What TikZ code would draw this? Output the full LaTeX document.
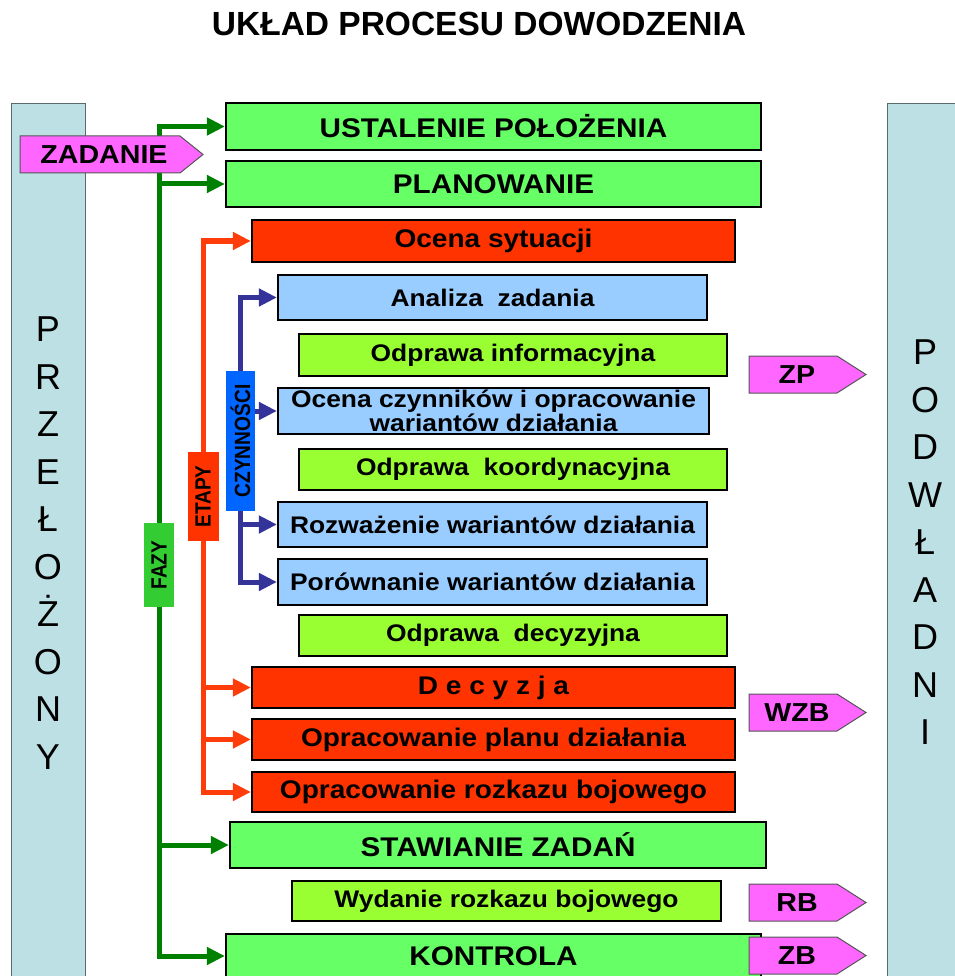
\documentclass[tikz,border=0pt]{standalone}
\usepackage{fontspec}
\setmainfont{Liberation Sans}
\newfontfamily\widesans[FakeStretch=1.1]{Liberation Sans}
\newfontfamily\narrowsans[FakeStretch=0.87]{Liberation Sans}
\usetikzlibrary{arrows.meta}
\pgfdeclarelayer{back}
\pgfsetlayers{back,main}

\definecolor{panelfill}{HTML}{BCE0E4}
\definecolor{paneledge}{HTML}{5A6A6C}
\definecolor{phasefill}{HTML}{66FF66}
\definecolor{stepfill}{HTML}{FF3300}
\definecolor{actfill}{HTML}{99CCFF}
\definecolor{brieffill}{HTML}{99FF33}
\definecolor{tagfill}{HTML}{FF66FF}
\definecolor{tagedge}{HTML}{555555}
\definecolor{phaseline}{HTML}{008000}
\definecolor{phaselabel}{HTML}{33CC33}
\definecolor{stepline}{HTML}{FF3D0A}
\definecolor{actline}{HTML}{333399}
\definecolor{actlabel}{HTML}{0066FF}

\tikzset{
  stage/.style={draw=black, line width=2.2pt, inner sep=0pt, align=center, text=black},
  phasebox/.style={stage, fill=phasefill, font=\widesans\bfseries\fontsize{27}{30}\selectfont},
  stepbox/.style={stage, fill=stepfill, font=\widesans\bfseries\fontsize{25.5}{28}\selectfont},
  actbox/.style={stage, fill=actfill, font=\widesans\bfseries\fontsize{24}{21}\selectfont},
  briefbox/.style={stage, fill=brieffill, font=\widesans\bfseries\fontsize{24}{21}\selectfont},
  tagshape/.style={fill=tagfill, draw=tagedge, line width=1pt},
  tagtext/.style={inner sep=0pt, text=black, font=\widesans\bfseries\fontsize{26}{28}\selectfont},
  levellabel/.style={inner sep=0pt, text=black, font=\narrowsans\bfseries\fontsize{22}{24}\selectfont},
  bigletters/.style={align=center, inner sep=0pt, anchor=north, text=black,
    font=\fontsize{36}{47.5}\selectfont},
  link/.style={line width=5pt, -{Triangle[length=18pt,width=17pt]}},
}

% box given by its corners: name, style, x1, y1, x2, y2, text
\newcommand\stagebox[7]{%
  \node[#2, minimum width={#5-#3}, minimum height={#6-#4}] (#1)
    at ({(#3+#5)/2},{(#4+#6)/2}) {#7};}

% pointed tag: name, left x, body end x, tip x, top y, bottom y, text
\newcommand\pinktag[7]{%
  \draw[tagshape] (#2,#5) -- (#3,#5) -- (#4,{(#5+#6)/2}) -- (#3,#6) -- (#2,#6) -- cycle;
  \node[tagtext] (#1) at ({(#2+#3)/2+4},{(#5+#6)/2}) {#7};}

\begin{document}
\begin{tikzpicture}[x=1pt,y=-1pt]
\useasboundingbox (0,0) rectangle (954,976);

% side panels
\begin{pgfonlayer}{back}
  \fill[panelfill] (11,104) rectangle (85,980);
  \draw[paneledge, line width=1pt] (11,980) -- (11,104) -- (85,104) -- (85,980);
  \fill[panelfill] (887,104) rectangle (958,980);
  \draw[paneledge, line width=1pt] (887,980) -- (887,104) -- (958,104);
\end{pgfonlayer}

\node[font=\bfseries\fontsize{33.5}{36}\selectfont, inner sep=0pt] (title) at (479,24)
  {UKŁAD PROCESU DOWODZENIA};

\node[bigletters] (superior) at (48,317) {P\\R\\Z\\E\\Ł\\O\\Ż\\O\\N\\Y};
\node[bigletters] (subordinates) at (925,340) {P\\O\\D\\W\\Ł\\A\\D\\N\\I};

% phases, stages and activities
\stagebox{ust}{phasebox}{226}{103}{761}{150}{USTALENIE POŁOŻENIA}
\stagebox{plan}{phasebox}{226}{161}{761}{207}{PLANOWANIE}
\stagebox{ocena}{stepbox}{252}{220}{735}{262}{Ocena sytuacji}
\stagebox{analiza}{actbox}{278}{275}{707}{320}{Analiza~~zadania}
\stagebox{odinf}{briefbox}{299}{334}{727}{376}{Odprawa informacyjna}
\stagebox{ocz}{actbox}{278}{388}{709}{434}{Ocena czynników i opracowanie\\wariantów działania}
\stagebox{odkoord}{briefbox}{299}{449}{727}{490}{Odprawa~~koordynacyjna}
\stagebox{rozw}{actbox}{278}{502}{707}{547}{Rozważenie wariantów działania}
\stagebox{por}{actbox}{278}{559}{707}{605}{Porównanie wariantów działania}
\stagebox{oddec}{briefbox}{299}{615}{727}{656}{Odprawa~~decyzyjna}
\stagebox{dec}{stepbox}{252}{667}{735}{708}{D e c y z j a}
\stagebox{planop}{stepbox}{252}{719}{735}{760}{Opracowanie planu działania}
\stagebox{rozk}{stepbox}{252}{772}{735}{812}{Opracowanie rozkazu bojowego}
\stagebox{staw}{phasebox}{230}{822}{766}{868}{STAWIANIE ZADAŃ}
\stagebox{wyd}{briefbox}{292}{881}{721}{921}{Wydanie rozkazu bojowego}
\stagebox{kont}{phasebox}{226}{934}{761}{978}{KONTROLA}

% level labels on the trunks
\node[levellabel, fill=phaselabel, minimum width=30, minimum height=84] (fazy)
  at (159,565) {\rotatebox{90}{FAZY}};
\node[levellabel, fill=stepfill, minimum width=31, minimum height=89] (etapy)
  at (203,496.5) {\rotatebox{90}{ETAPY}};
\node[levellabel, fill=actlabel, minimum width=29, minimum height=140] (czyn)
  at (240.5,441) {\rotatebox{90}{CZYNNOŚCI}};

% connectors
\begin{pgfonlayer}{back}
  \draw[link, phaseline] (fazy.center) |- (ust.west);
  \draw[link, phaseline] (fazy.center) |- (plan.west);
  \draw[link, phaseline] (fazy.center) |- (staw.west);
  \draw[link, phaseline] (fazy.center) |- (kont.west);
  \draw[link, stepline] (etapy.center) |- (ocena.west);
  \draw[link, stepline] (etapy.center) |- (dec.west);
  \draw[link, stepline] (etapy.center) |- (planop.west);
  \draw[link, stepline] (etapy.center) |- (rozk.west);
  \draw[link, actline] (czyn.center) |- (analiza.west);
  \draw[link, actline] (czyn.center |- ocz.west) -- (ocz.west);
  \draw[link, actline] (czyn.center) |- (rozw.west);
  \draw[link, actline] (czyn.center) |- (por.west);
\end{pgfonlayer}

% documents passed on
\pinktag{zadanie}{20}{180}{203}{136}{173}{ZADANIE}
\pinktag{zp}{749}{837}{866}{356}{393}{ZP}
\pinktag{wzb}{749}{837}{866}{694}{731}{WZB}
\pinktag{rb}{749}{837}{866}{884}{921}{RB}
\pinktag{zb}{749}{837}{866}{937}{974}{ZB}
\end{tikzpicture}
\end{document}
